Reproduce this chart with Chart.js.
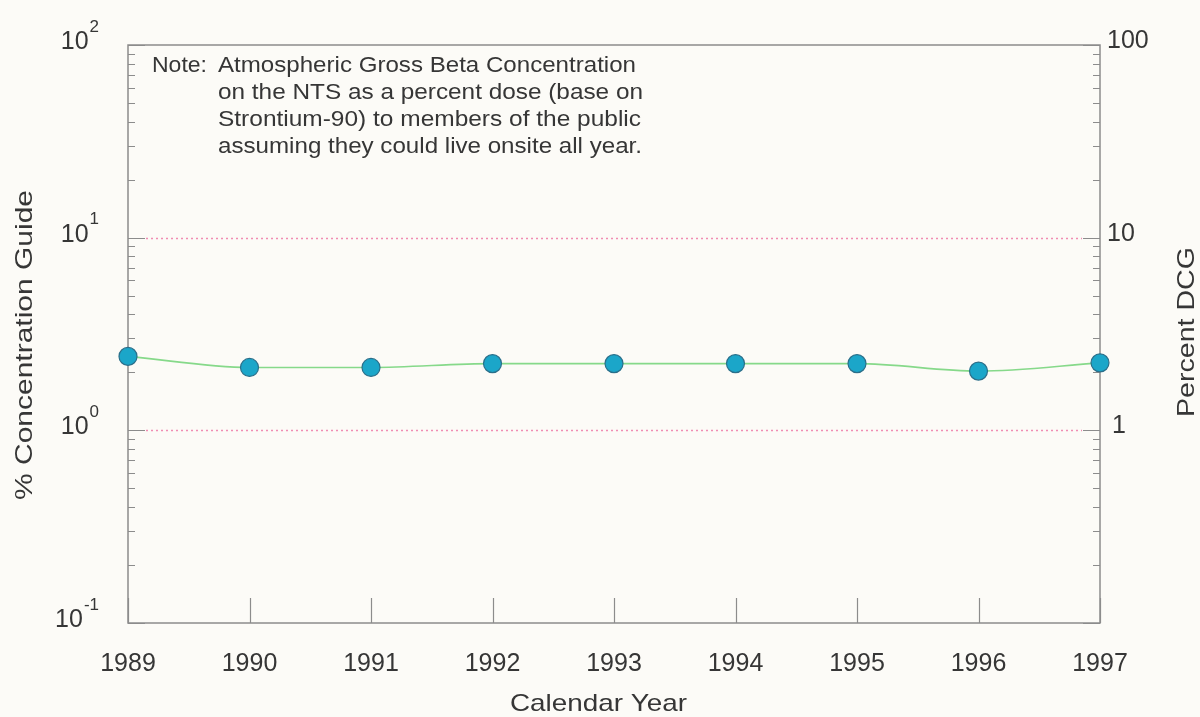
<!DOCTYPE html>
<html>
<head>
<meta charset="utf-8">
<script src="https://cdn.jsdelivr.net/npm/chart.js@4.4.1/dist/chart.umd.min.js"></script>
<style>
  html, body { margin: 0; padding: 0; background: #fcfbf7; }
  #wrap { width: 1200px; height: 717px; }
</style>
</head>
<body>
<div id="wrap"><canvas id="chart" width="1200" height="717"></canvas></div>
<script>
// data
const years = [1989, 1990, 1991, 1992, 1993, 1994, 1995, 1996, 1997];
const pctDCG = [2.42, 2.12, 2.12, 2.22, 2.22, 2.22, 2.22, 2.03, 2.24];

const leftTicks = [0.1, 1, 10, 100];
const leftExp = ['-1', '0', '1', '2'];
const rightTicks = [1, 10, 100];
const rightLabels = ['1', '10', '100'];
const guideLines = [1, 10];

const noteLines = [
    'Atmospheric Gross Beta Concentration',
    'on the NTS as a percent dose (base on',
    'Strontium-90) to members of the public',
    'assuming they could live onsite all year.'
];

const FONT = '"Liberation Sans", Arial, Helvetica, sans-serif';
const INK = '#363636';
const AXIS = '#8c8c8c';

// the scan is set wide: stretch a string to the width it has in the picture
function wide(c, text, x, y, width) {
    const w = c.measureText(text).width;
    const sx = width / w;
    c.save();
    c.translate(x, y);
    c.scale(sx, 1);
    c.fillText(text, 0, 0);
    c.restore();
}

const backdrop = {
    id: 'backdrop',
    beforeDraw(chart) {
        const c = chart.ctx;
        c.save();
        c.fillStyle = '#fcfbf7';
        c.fillRect(0, 0, chart.width, chart.height);
        c.restore();
    },
    beforeDatasetsDraw(chart) {
        const c = chart.ctx;
        const a = chart.chartArea;
        const y = chart.scales.y;
        c.save();
        c.strokeStyle = '#f08db3';
        c.lineWidth = 1.6;
        c.setLineDash([2, 3]);
        guideLines.forEach(v => {
            const py = Math.round(y.getPixelForValue(v)) + 0.5;
            c.beginPath();
            c.moveTo(a.left + 18, py);
            c.lineTo(a.right - 18, py);
            c.stroke();
        });
        c.setLineDash([]);

        // frame
        c.strokeStyle = AXIS;
        c.lineWidth = 1.5;
        c.strokeRect(a.left, a.top, a.right - a.left, a.bottom - a.top);

        // log ticks, inside, on both sides
        c.lineWidth = 1.2;
        for (let d = 0; d < 3; d++) {
            const base = leftTicks[d];
            for (let k = 1; k <= 10; k++) {
                const py = Math.round(y.getPixelForValue(base * k)) + 0.5;
                const len = (k === 1 || k === 10) ? 17 : 7;
                c.beginPath();
                c.moveTo(a.left, py); c.lineTo(a.left + len, py);
                c.moveTo(a.right, py); c.lineTo(a.right - len, py);
                c.stroke();
            }
        }

        // year ticks from the bottom
        const x = chart.scales.x;
        years.forEach(yr => {
            const px = Math.round(x.getPixelForValue(yr)) + 0.5;
            c.beginPath();
            c.moveTo(px, a.bottom);
            c.lineTo(px, a.bottom - 25);
            c.stroke();
        });
        c.restore();
    },
    afterDraw(chart) {
        const c = chart.ctx;
        const x = chart.scales.x;
        const y = chart.scales.y;
        c.save();
        c.fillStyle = INK;
        c.textBaseline = 'middle';

        // left labels 10^n, right-aligned as a group
        leftTicks.forEach((v, i) => {
            const py = y.getPixelForValue(v) - 3;
            c.font = '17px ' + FONT;
            const ew = c.measureText(leftExp[i]).width;
            c.textAlign = 'left';
            c.fillText(leftExp[i], 99 - ew, py - 15);
            c.font = '25px ' + FONT;
            c.textAlign = 'right';
            c.fillText('10', 99 - ew - 1, py);
        });

        // right labels
        c.font = '25px ' + FONT;
        c.textAlign = 'left';
        rightTicks.forEach((v, i) => {
            const py = y.getPixelForValue(v) - 4;
            c.fillText(rightLabels[i], rightLabels[i] === '1' ? 1112 : 1107, py);
        });

        // year labels
        c.textAlign = 'center';
        years.forEach(yr => {
            c.fillText(String(yr), x.getPixelForValue(yr), 664);
        });

        // axis titles
        c.font = '24px ' + FONT;
        c.textAlign = 'left';
        wide(c, 'Calendar Year', 510, 704, 177);

        c.save();
        c.translate(25, 345);
        c.rotate(-Math.PI / 2);
        wide(c, '% Concentration Guide', -155, 0, 310);
        c.restore();

        c.save();
        c.translate(1187, 332);
        c.rotate(-Math.PI / 2);
        wide(c, 'Percent DCG', -85, 0, 170);
        c.restore();

        // note
        c.font = '22px ' + FONT;
        wide(c, 'Note:', 152, 66, 55);
        const noteW = [418, 425, 423, 424];
        noteLines.forEach((t, i) => wide(c, t, 218, 66 + i * 27, noteW[i]));
        c.restore();
    }
};

new Chart(document.getElementById('chart'), {
    type: 'line',
    data: {
        labels: years,
        datasets: [{
            data: years.map((yr, i) => ({ x: yr, y: pctDCG[i] })),
            borderColor: '#86d98a',
            borderWidth: 1.6,
            cubicInterpolationMode: 'monotone',
            pointRadius: 9,
            pointBackgroundColor: '#1ba6c9',
            pointBorderColor: '#2b6f8a',
            pointBorderWidth: 1.2,
            clip: false
        }]
    },
    options: {
        responsive: false,
        animation: false,
        layout: { padding: { left: 128, right: 100, top: 45, bottom: 94 } },
        plugins: { legend: { display: false }, tooltip: { enabled: false } },
        scales: {
            x: { type: 'linear', min: 1989, max: 1997, display: false },
            y: { type: 'logarithmic', min: 0.1, max: 100, display: false },
            y2: { type: 'logarithmic', position: 'right', min: 0.1, max: 100, display: false }
        }
    },
    plugins: [backdrop]
});
</script>
</body>
</html>
